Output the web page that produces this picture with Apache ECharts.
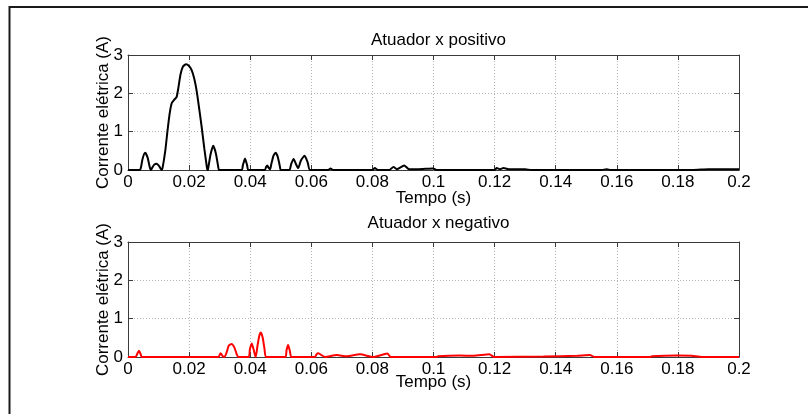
<!DOCTYPE html>
<html>
<head>
<meta charset="utf-8">
<script src="https://cdn.jsdelivr.net/npm/echarts@6/dist/echarts.min.js"></script>
<style>
  html, body { margin: 0; padding: 0; background: #fff; }
  #chart { width: 808px; height: 414px; }
</style>
</head>
<body>
<div id="chart"></div>
<script>
// Current drawn by the positive-x actuator (A) over time (s)
const timePos = [0, 0.0039, 0.0042, 0.0048, 0.0056, 0.0064, 0.0071, 0.0075,
  0.0078, 0.0086, 0.0094, 0.0102, 0.011,
  0.0113, 0.0122, 0.0129, 0.0136, 0.0143, 0.0152, 0.0159, 0.0165, 0.0172, 0.018,
  0.019, 0.0199, 0.0208, 0.0217, 0.0225, 0.0233, 0.0241, 0.025, 0.0258, 0.026,
  0.0262, 0.027, 0.0279, 0.0288, 0.0296, 0.0298,
  0.0372, 0.0376, 0.0383, 0.039, 0.0394,
  0.0448, 0.0452, 0.0456, 0.046, 0.0465,
  0.0469, 0.0476, 0.0483, 0.049, 0.0497, 0.050,
  0.0528, 0.0534, 0.0542, 0.055, 0.0557, 0.0566, 0.0578, 0.0588, 0.0596,
  0.0655, 0.0663, 0.0672, 0.080, 0.0808, 0.0818, 0.0855, 0.0869, 0.088, 0.0904, 0.092,
  0.095, 0.0998, 0.101, 0.120, 0.1207, 0.1218, 0.1229, 0.125, 0.130, 0.132,
  0.155, 0.1567, 0.158, 0.185, 0.190, 0.200];
const currentPos = [0, 0, 0.05, 0.3, 0.45, 0.33, 0.08, 0,
  0.04, 0.14, 0.16, 0.1, 0,
  0.05, 0.5, 1.0, 1.45, 1.74, 1.84, 1.9, 2.15, 2.5, 2.7,
  2.76, 2.72, 2.61, 2.38, 2.05, 1.6, 1.13, 0.55, 0.08, 0,
  0.02, 0.4, 0.63, 0.42, 0.05, 0,
  0, 0.12, 0.30, 0.12, 0,
  0, 0.08, 0.12, 0.06, 0.02,
  0.15, 0.37, 0.45, 0.35, 0.1, 0,
  0, 0.15, 0.29, 0.15, 0.05, 0.25, 0.37, 0.2, 0,
  0, 0.04, 0, 0, 0.05, 0, 0, 0.08, 0.02, 0.12, 0.02,
  0.02, 0.04, 0, 0, 0.05, 0.02, 0.05, 0.02, 0.02, 0,
  0, 0.02, 0, 0, 0.02, 0.02];

// Current drawn by the negative-x actuator (A) over time (s)
const timeNeg = [0, 0.0025, 0.003, 0.0036, 0.0042, 0.0045,
  0.0296, 0.0303, 0.031, 0.0316, 0.0322, 0.033, 0.0339, 0.0348, 0.0356, 0.0361,
  0.0395, 0.0399, 0.0405, 0.0411, 0.0418, 0.0424, 0.043, 0.0435, 0.0441, 0.0447, 0.0452,
  0.0515, 0.0519, 0.0524, 0.053, 0.0535,
  0.0612, 0.0617, 0.0623, 0.0635, 0.0645,
  0.0683, 0.0716, 0.0759, 0.0803, 0.0849, 0.086,
  0.101, 0.1015, 0.1085, 0.113, 0.1183, 0.1198, 0.136, 0.147, 0.1512, 0.1528,
  0.1709, 0.1715, 0.1796, 0.1845, 0.1878, 0.200];
const currentNeg = [0, 0, 0.08, 0.165, 0.06, 0,
  0, 0.1, 0.02, 0, 0.1, 0.3, 0.34, 0.25, 0.07, 0,
  0, 0.2, 0.35, 0.2, 0, 0.3, 0.56, 0.64, 0.5, 0.2, 0,
  0, 0.18, 0.31, 0.15, 0,
  0, 0.07, 0.1, 0.04, 0,
  0.05, 0.02, 0.07, 0, 0.09, 0,
  0, 0.02, 0.04, 0.03, 0.07, 0, 0.01, 0.03, 0.05, 0,
  0, 0.02, 0.04, 0.03, 0, 0];

const titles = ['Atuador x positivo', 'Atuador x negativo'];
const xLabel = 'Tempo (s)';
const yLabel = 'Corrente elétrica (A)';

const FONT = 'Liberation Sans, Arial, sans-serif';
const FS = 17;

const pair = (xs, ys) => xs.map((x, i) => [x, ys[i]]);

const grids = [
  { left: 128, top: 55, width: 611, height: 115 },
  { left: 128, top: 242, width: 611, height: 115 }
];
const titleTops = [27, 210];
const xNameGaps = [20, 17];

const gridLine = { show: true, lineStyle: { color: '#b4b4b4', type: [1, 2], width: 1 } };
const axisLine = { show: true, onZero: false, lineStyle: { color: '#3a3a3a', width: 1 } };
const tick = { show: true, inside: true, length: 5, lineStyle: { color: '#3a3a3a' } };
const fmtX = v => String(+v.toFixed(2));

const xAxis = [], yAxis = [];
grids.forEach((g, i) => {
  xAxis.push({
    gridIndex: i, type: 'value', min: 0, max: 0.2, interval: 0.02, position: 'bottom',
    axisLine, axisTick: tick, splitLine: gridLine,
    axisLabel: { color: '#000', fontSize: FS, fontFamily: FONT, margin: 4, formatter: fmtX },
    name: xLabel, nameLocation: 'middle', nameGap: xNameGaps[i], nameMoveOverlap: false,
    nameTextStyle: { color: '#000', fontSize: FS, fontFamily: FONT, verticalAlign: 'top' }
  });
  xAxis.push({
    gridIndex: i, type: 'value', min: 0, max: 0.2, interval: 0.02, position: 'top',
    axisLine, axisTick: tick, splitLine: { show: false }, axisLabel: { show: false }
  });
  yAxis.push({
    gridIndex: i, type: 'value', min: 0, max: 3, interval: 1, position: 'left',
    axisLine, axisTick: tick, splitLine: gridLine,
    axisLabel: { color: '#000', fontSize: FS, fontFamily: FONT, margin: 5 },
    name: yLabel, nameLocation: 'middle', nameRotate: 90, nameGap: 16, nameMoveOverlap: false,
    nameTextStyle: { color: '#000', fontSize: FS, fontFamily: FONT }
  });
  yAxis.push({
    gridIndex: i, type: 'value', min: 0, max: 3, interval: 1, position: 'right',
    axisLine, axisTick: tick, splitLine: { show: false }, axisLabel: { show: false }
  });
});

const chart = echarts.init(document.getElementById('chart'), null, { renderer: 'canvas' });
chart.setOption({
  animation: false,
  backgroundColor: '#fff',
  title: titles.map((t, i) => ({
    text: t, left: 433.5, top: titleTops[i], textAlign: 'center',
    textStyle: { color: '#000', fontSize: FS, fontWeight: 'normal', fontFamily: FONT }
  })),
  grid: grids,
  xAxis, yAxis,
  series: [
    {
      type: 'line', xAxisIndex: 0, yAxisIndex: 0, data: pair(timePos, currentPos),
      smooth: 0.2, showSymbol: false, lineStyle: { color: '#000', width: 2 }
    },
    {
      type: 'line', xAxisIndex: 2, yAxisIndex: 2, data: pair(timeNeg, currentNeg),
      smooth: 0.2, showSymbol: false, lineStyle: { color: '#ff0000', width: 2 }
    }
  ],
  graphic: [
    { type: 'polyline', shape: { points: [[9.5, 414], [9.5, 7], [808, 7]] },
      style: { stroke: '#1a1a1a', lineWidth: 2, fill: null }, silent: true }
  ]
});
</script>
</body>
</html>
